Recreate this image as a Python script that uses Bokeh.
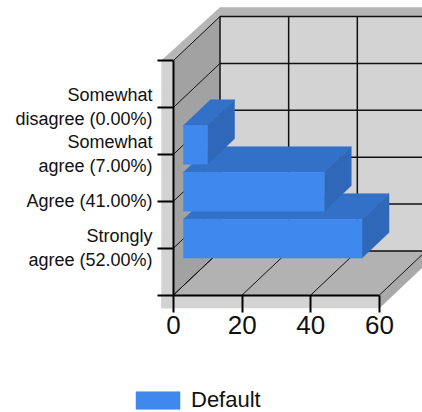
from bokeh.plotting import figure
from bokeh.models import Legend, LegendItem, FixedTicker, Range1d
from bokeh.embed import file_html
from bokeh.resources import INLINE

categories = ["Strongly\nagree (52.00%)", "Agree (41.00%)", "Somewhat\nagree (7.00%)", "Somewhat\ndisagree (0.00%)"]
values = [52, 41, 7, 0]
x_ticks = [0, 20, 40, 60]
y_ticks = [0, 1, 2, 3, 4, 5]

W, H = 422, 412
PX_X = 3.433   # px per x unit
PX_Y = 46.9    # px per y unit
X0, Y0 = 173, 294.5  # canvas position of the origin
DX = 46.5 / PX_X     # full depth of the box
DY = 44 / PX_Y
D0, D1 = 0.215, 0.795  # bar depth extent
HALF = 0.415
XMAX, YMAX = x_ticks[-1], y_ticks[-1]

def P(v, c, d=0.0):
    return v + d * DX, c + d * DY

def poly(*pts):
    return [q[0] for q in pts], [q[1] for q in pts]

p = figure(width=W, height=H, output_backend="svg", toolbar_location=None,
           x_range=Range1d(-X0 / PX_X, (W - X0) / PX_X),
           y_range=Range1d(-(H - Y0) / PX_Y, Y0 / PX_Y),
           min_border=0, min_border_left=0, min_border_right=0, min_border_top=0, min_border_bottom=0)
p.outline_line_color = None
p.grid.visible = False

TX, TY = 12 / PX_X, 13 / PX_Y
TOP = 9 / PX_Y
RIGHT = XMAX + 2 * DX

def face(pts, color):
    xs, ys = poly(*pts)
    p.patch(xs, ys, fill_color=color, line_color=color, line_width=0.5)

# outer shell
face([(-TX, YMAX), (0, YMAX), P(0, YMAX, 1), (P(0, YMAX, 1)[0], P(0, YMAX, 1)[1] + TOP)], "#b6b6b6")
face([P(0, YMAX, 1), (P(0, YMAX, 1)[0], P(0, YMAX, 1)[1] + TOP), (RIGHT, P(0, YMAX, 1)[1] + TOP), (RIGHT, P(0, YMAX, 1)[1])], "#b6b6b6")
face([P(XMAX, 0), P(XMAX, -TY), P(XMAX, -TY, 2), P(XMAX, 0, 2)], "#a9a9a9")
face([(-TX, YMAX), (0, YMAX), (0, -TY), (-TX, -TY)], "#d3d3d3")
face([(-TX, 0), (XMAX, 0), (XMAX, -TY), (-TX, -TY)], "#d3d3d3")
# walls
face([P(0, 0), P(0, YMAX), P(0, YMAX, 1), P(0, 0, 1)], "#a2a2a2")
face([P(0, 0, 1), P(0, YMAX, 1), (RIGHT, P(0, YMAX, 1)[1]), (RIGHT, P(0, 0, 1)[1])], "#d3d3d3")
face([P(0, 0), P(XMAX, 0), P(XMAX, 0, 1), P(0, 0, 1)], "#b2b2b2")

# grid on the walls
for t in y_ticks:
    xs, ys = poly(P(0, t), P(0, t, 1))
    p.line(xs, ys, line_color="#111111", line_width=1)
    xs, ys = poly(P(0, t, 1), (RIGHT, P(0, t, 1)[1]))
    p.line(xs, ys, line_color="#111111", line_width=1.5)
for t in x_ticks:
    xs, ys = poly(P(t, 0), P(t, 0, 1))
    p.line(xs, ys, line_color="#111111", line_width=1)
    xs, ys = poly(P(t, 0, 1), P(t, YMAX, 1))
    p.line(xs, ys, line_color="#111111", line_width=1.5)

# bars
front = None
for i, v in enumerate(values):
    c = i + 1
    if v <= 0:
        continue
    face([P(0, c + HALF, D0), P(v, c + HALF, D0), P(v, c + HALF, D1), P(0, c + HALF, D1)], "#3370c8")
    face([P(v, c - HALF, D0), P(v, c + HALF, D0), P(v, c + HALF, D1), P(v, c - HALF, D1)], "#2f68b8")
    x0, y0 = P(0, c - HALF, D0)
    x1, y1 = P(v, c + HALF, D0)
    front = p.quad(left=x0, right=x1, bottom=y0, top=y1, fill_color="#3f88ee", line_color="#3f88ee", line_width=0.5)

# axes
ax = p.xaxis[0]
ax.fixed_location = 0
ax.bounds = (x_ticks[0], x_ticks[-1])
ax.ticker = FixedTicker(ticks=x_ticks)
ay = p.yaxis[0]
ay.fixed_location = 0
ay.bounds = (y_ticks[0], y_ticks[-1])
ay.ticker = FixedTicker(ticks=y_ticks)
ay.major_label_overrides = {0: "", 5: "", 1: categories[0], 2: categories[1], 3: categories[2], 4: categories[3]}
for a in (ax, ay):
    a.axis_line_color = "black"
    a.axis_line_width = 2
    a.major_tick_line_color = "black"
    a.major_tick_line_width = 2
    a.major_tick_in = 0
    a.minor_tick_line_color = None
    a.major_label_text_font = "Liberation Sans"
    a.major_label_text_color = "#111111"
ax.major_tick_out = 17
ax.major_label_text_font_size = "26px"
ax.major_label_standoff = 4
ay.major_tick_out = 16
ay.major_label_text_font_size = "18px"
ay.major_label_standoff = 5

leg = Legend(items=[LegendItem(label="Default", renderers=[front])], location=(130, -1),
             glyph_width=55, glyph_height=22, label_text_font="Liberation Sans",
             label_text_font_size="22px", label_text_color="#111111", label_standoff=6,
             border_line_color=None, background_fill_color=None, padding=0, margin=0)
p.add_layout(leg, "center")

open("out.html", "w").write(file_html(p, INLINE))
